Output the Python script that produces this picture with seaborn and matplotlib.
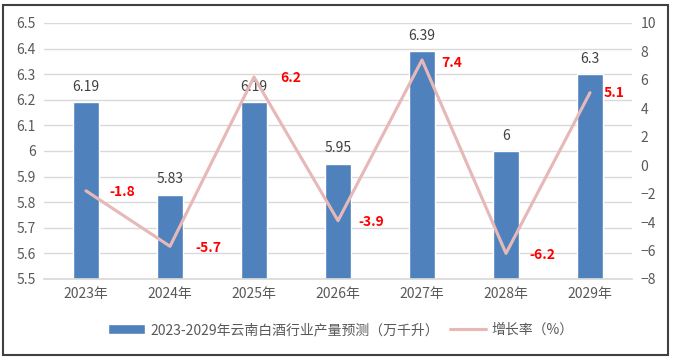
import matplotlib
matplotlib.use("Agg")
import matplotlib.pyplot as plt
import seaborn as sns
import pandas as pd
from matplotlib.patches import Rectangle

years = ["2023年", "2024年", "2025年", "2026年", "2027年", "2028年", "2029年"]
output = [6.19, 5.83, 6.19, 5.95, 6.39, 6.0, 6.3]
output_labels = ["6.19", "5.83", "6.19", "5.95", "6.39", "6", "6.3"]
growth = [-1.8, -5.7, 6.2, -3.9, 7.4, -6.2, 5.1]
bar_name = "2023-2029年云南白酒行业产量预测（万千升）"
line_name = "增长率（%）"

sns.set_theme(style="white")
plt.rcParams['font.family'] = ['Noto Sans CJK SC', 'DejaVu Sans']

df = pd.DataFrame({"year": years, "output": output, "growth": growth})

fig = plt.figure(figsize=(6.82, 3.61), dpi=100)
ax = fig.add_axes([44/682, 1-279/361, 588/682, 256/361])
ax2 = ax.twinx()

bar_color = "#4F81BD"
line_color = "#E6B9B8"
tick_color = "#595959"

sns.barplot(data=df, x="year", y="output", color=bar_color, width=0.31,
            ax=ax, saturation=1, label=bar_name, zorder=2)
ax.set_ylim(5.5, 6.5)
ax.set_yticks([5.5 + 0.1*i for i in range(11)])
ax.set_yticklabels(["5.5", "5.6", "5.7", "5.8", "5.9", "6", "6.1", "6.2", "6.3", "6.4", "6.5"])
ax.set_xlim(-0.5, 6.5)
ax.grid(axis="y", color="#D9D9D9", linewidth=1, zorder=0)
ax.set_axisbelow(True)
ax.set_xlabel("")
ax.set_ylabel("")

sns.lineplot(data=df, x="year", y="growth", color=line_color, linewidth=2.25,
             ax=ax2, label=line_name, sort=False)
ax2.set_ylim(-8, 10)
ax2.set_yticks(range(-8, 11, 2))
ax2.set_ylabel("")

for a in (ax, ax2):
    for s in a.spines.values():
        s.set_visible(False)
    a.tick_params(length=0, labelsize=10, colors=tick_color, pad=6)
ax.spines["bottom"].set_visible(True)
ax.spines["bottom"].set_color("#D9D9D9")

for i, (v, t) in enumerate(zip(output, output_labels)):
    ax.annotate(t, (i, v), xytext=(0, 6), textcoords="offset points",
                ha="center", va="bottom", fontsize=10, color="#404040")

offsets = [(17, -1), (18, -1), (19, -1), (15, -1), (14, -2), (16.5, -1), (10, 0)]
for i, (g, off) in enumerate(zip(growth, offsets)):
    ax2.annotate(f"{g}", (i, g), xytext=off, textcoords="offset points",
                 ha="left", va="center", fontsize=10, color="#FF0000", fontweight="bold")

h1, l1 = ax.get_legend_handles_labels()
h2, l2 = ax2.get_legend_handles_labels()
if ax2.get_legend():
    ax2.get_legend().remove()
if ax.get_legend():
    ax.get_legend().remove()
fig.legend(h1 + h2, l1 + l2, loc="center", bbox_to_anchor=(0.5, 1-330/361), ncol=2,
           frameon=False, fontsize=10, labelcolor=tick_color, handlelength=2.6,
           columnspacing=0.8, handletextpad=0.4)

fig.patches.append(Rectangle((3/682, 1-355/361), 665/682, 350/361, transform=fig.transFigure,
                             fill=False, edgecolor="#404040", linewidth=1.5))

fig.savefig("out.png", dpi=100)
